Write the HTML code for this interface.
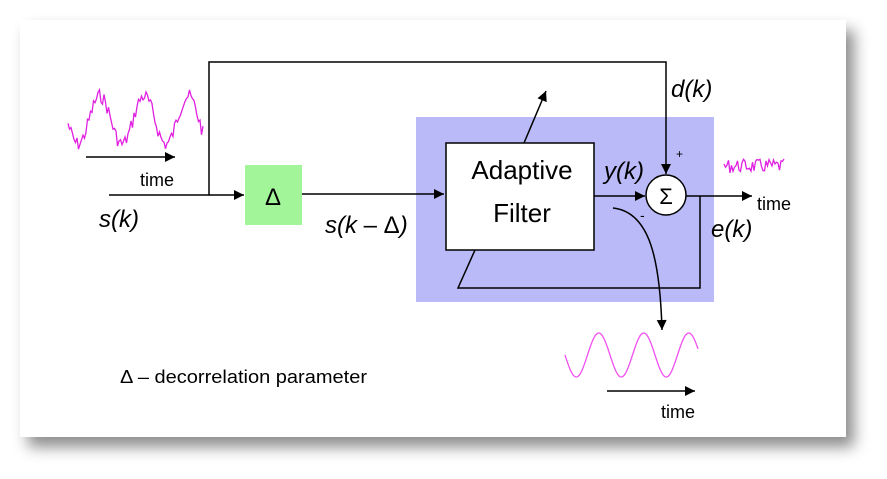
<!DOCTYPE html>
<html><head><meta charset="utf-8"><style>
html,body{margin:0;padding:0;background:#fff;}
body{width:887px;height:479px;overflow:hidden;position:relative;font-family:"Liberation Sans",Arial,sans-serif;}
.card{position:absolute;left:20px;top:20px;width:826px;height:417px;background:#fff;box-shadow:8px 10px 14px rgba(0,0,0,0.45);}
svg{position:absolute;left:0;top:0;}
text{font-family:"Liberation Sans",Arial,sans-serif;fill:#000;}
.it{font-style:italic;font-size:24px;}
</style></head><body>
<div class="card"></div>
<svg width="887" height="479" viewBox="0 0 887 479">
<defs>
<marker id="b" viewBox="0 0 10 10" refX="10" refY="5" markerWidth="16" markerHeight="10" markerUnits="userSpaceOnUse" orient="auto"><path d="M0,0L10,5L0,10z" fill="#000"/></marker></defs>
<rect x="416" y="117" width="298" height="185" fill="#babaf8"/>
<rect x="245" y="165" width="57" height="60" fill="#a3f59a"/>
<text x="273" y="205" font-size="24" text-anchor="middle">Δ</text>
<rect x="446" y="143" width="148" height="107" fill="#fff" stroke="#000" stroke-width="1.5"/>
<text x="522" y="179" font-size="26" text-anchor="middle">Adaptive</text>
<text x="522" y="222" font-size="26" text-anchor="middle">Filter</text>
<g stroke="#000" stroke-width="1.5" fill="none">
<polyline points="109,195 209,195 209,62 666,62 666,174" marker-end="url(#b)"/>
<line x1="209" y1="195" x2="244" y2="195" marker-end="url(#b)"/>
<line x1="302" y1="194" x2="444" y2="194" marker-end="url(#b)"/>
<line x1="594" y1="196" x2="645" y2="196" marker-end="url(#b)"/>
<circle cx="666" cy="195" r="20" fill="#fff"/>
<line x1="686" y1="196" x2="752" y2="196" marker-end="url(#b)"/>
<polyline points="700,196 700,288 458,288 475,250"/>
<line x1="524" y1="143" x2="546" y2="91" marker-end="url(#b)"/>
<path d="M613,208 C650,212 660,260 662,330" marker-end="url(#b)"/>
<line x1="86" y1="157" x2="175" y2="157" marker-end="url(#b)"/>
<line x1="607" y1="391" x2="695" y2="391" marker-end="url(#b)"/>
</g>
<text x="666" y="204" font-size="22" text-anchor="middle">Σ</text>
<text x="676" y="158" font-size="12">+</text>
<text x="640" y="220" font-size="14">-</text>
<path id="sine" fill="none" stroke="#f050f0" stroke-width="1.3" d=""/>
<path id="n1" fill="none" stroke="#e020e0" stroke-width="1.3" d=""/>
<path id="n2" fill="none" stroke="#e020e0" stroke-width="1.3" d=""/>
<text x="140" y="186" font-size="18">time</text>
<text x="757" y="210" font-size="18">time</text>
<text x="661" y="418" font-size="18">time</text>
<text x="99" y="227" class="it">s(k)</text>
<text x="325" y="233" class="it">s(<tspan>k</tspan><tspan font-style="normal"> – Δ</tspan>)</text>
<text x="671" y="97" class="it">d(k)</text>
<text x="604" y="179" class="it">y(k)</text>
<text x="711" y="237" class="it">e(k)</text>
<text x="120" y="383" font-size="18" textLength="247" lengthAdjust="spacingAndGlyphs">Δ – decorrelation parameter</text>
</svg>
<script>
var s="";for(var x=565;x<=698;x++){var y=355+22*Math.sin((x-565)/45*2*Math.PI);s+=(x==565?"M":"L")+x+","+y.toFixed(1);}
document.getElementById("sine").setAttribute("d",s);
var seed=7;function r(){seed=(seed*9301+49297)%233280;return seed/233280-0.5;}
s="";for(var x=68;x<=203;x+=1.5){var y=120+24*Math.cos((x-78)/44*2*Math.PI)+r()*14;s+=(x==68?"M":"L")+x+","+y.toFixed(1);}
document.getElementById("n1").setAttribute("d",s);
s="";for(var x=724;x<=784;x+=1.5){var y=166+r()*14;s+=(x==724?"M":"L")+x+","+y.toFixed(1);}
document.getElementById("n2").setAttribute("d",s);
</script>
</body></html>
